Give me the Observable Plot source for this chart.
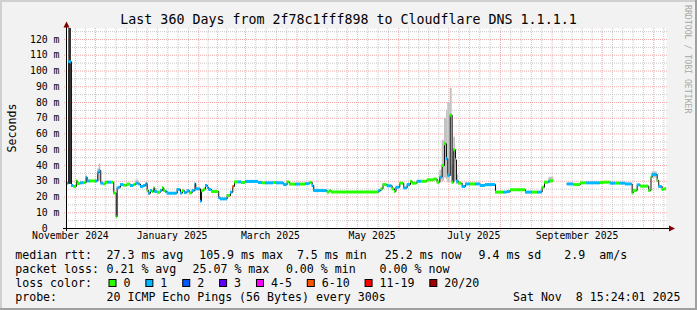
<!DOCTYPE html>
<html><head><meta charset="utf-8">
<script src="https://cdn.jsdelivr.net/npm/d3@7"></script>
<script src="https://cdn.jsdelivr.net/npm/@observablehq/plot@0.6"></script>
<style>body{margin:0;background:#f2f2f2} svg{display:block}</style>
</head><body><div id="chart"></div>
<script>
// ---- data ----
const times = [
"2024-11-13 15","2024-11-15 00","2024-11-16 15","2024-11-18 00","2024-11-19 15","2024-11-20 01","2024-11-22 01","2024-11-24 00","2024-11-25 11","2024-11-26 01","2024-11-28 01",
"2024-12-01 01","2024-12-02 10","2024-12-03 06","2024-12-04 05","2024-12-05 20","2024-12-07 01","2024-12-08 06","2024-12-10 15","2024-12-12 00","2024-12-13 11","2024-12-14 01","2024-12-15 00","2024-12-16 01","2024-12-18 00","2024-12-20 01","2024-12-22 01","2024-12-24 00","2024-12-25 08","2024-12-27 00","2024-12-28 01","2024-12-30 00","2024-12-31 08",
"2025-01-01 01","2025-01-02 00","2025-01-03 01","2025-01-04 06","2025-01-05 00","2025-01-05 15","2025-01-07 06","2025-01-09 01","2025-01-10 06","2025-01-11 00","2025-01-12 01","2025-01-13 01","2025-01-19 01","2025-01-21 01","2025-01-22 06","2025-01-23 11","2025-01-25 01","2025-01-26 11","2025-01-28 01","2025-01-29 18","2025-01-30 05",
"2025-02-02 01","2025-02-02 15","2025-02-04 00","2025-02-05 01","2025-02-06 06","2025-02-07 00","2025-02-08 15","2025-02-13 00","2025-02-14 01","2025-02-18 01","2025-02-20 01","2025-02-21 10","2025-02-22 11","2025-02-24 20","2025-02-26 15",
"2025-03-01 01","2025-03-08 20","2025-03-11 06","2025-03-13 01","2025-03-17 20","2025-03-19 15","2025-03-24 00","2025-03-26 01","2025-03-27 11","2025-03-31 01",
"2025-04-03 01","2025-04-06 01","2025-04-08 15","2025-04-10 01","2025-04-11 00","2025-04-19 01","2025-04-20 11","2025-04-21 15",
"2025-05-20 00","2025-05-21 08","2025-05-22 13","2025-05-25 01","2025-05-28 01","2025-05-29 11","2025-05-30 08",
"2025-06-01 15","2025-06-04 00","2025-06-06 01","2025-06-08 01","2025-06-09 01","2025-06-12 01","2025-06-14 15","2025-06-18 01","2025-06-22 00","2025-06-24 01","2025-06-25 15","2025-06-27 01","2025-06-28 11","2025-06-29 15","2025-06-30 10",
"2025-07-01 21","2025-07-03 01","2025-07-04 00","2025-07-05 01","2025-07-05 15","2025-07-07 00","2025-07-09 01","2025-07-11 01","2025-07-14 01","2025-07-17 01","2025-07-20 01","2025-07-23 01","2025-07-29 01",
"2025-08-03 00","2025-08-05 01","2025-08-07 01","2025-08-16 01","2025-08-20 06","2025-08-23 06","2025-08-26 01","2025-08-27 11","2025-08-30 00","2025-08-31 01",
"2025-09-02 00","2025-09-10 01","2025-09-14 00","2025-09-18 01","2025-09-21 15","2025-09-30 01",
"2025-10-02 00","2025-10-06 01","2025-10-09 01","2025-10-12 01","2025-10-15 01","2025-10-19 01","2025-10-19 16","2025-10-22 01","2025-10-24 01","2025-10-29 00","2025-10-30 08","2025-10-31 01",
"2025-11-03 01","2025-11-04 00","2025-11-06 01","2025-11-07 03"
];
// median rtt in ms (null = no data)
const medians = [
28.8,105.9,27.3,26.7,30.4,28.6,29.0,29.2,32.6,30.2,30.2,
30.2,35.5,36.8,28.8,28.3,29.4,29.4,29.4,22.5,7.5,25.8,26.2,27.9,27.5,28.2,27.3,27.9,28.8,28.2,26.7,27.3,28.6,
24.1,22.3,24.1,23.5,25.8,23.5,23.0,24.1,25.8,24.1,23.5,22.4,24.8,22.5,24.0,22.8,24.0,22.6,24.1,28.5,25.2,
17.3,24.0,25.0,27.3,26.0,24.8,23.5,19.5,18.8,20.9,23.0,26.7,29.6,29.6,29.2,
29.9,29.2,29.0,29.0,29.2,29.0,27.9,29.6,28.2,28.2,
28.2,28.5,29.3,27.3,24.1,23.2,24.0,23.1,
24.1,25.2,27.9,27.1,25.2,23.5,26.2,
28.8,25.8,27.9,30.0,28.8,30.0,30.0,30.9,31.4,29.4,32.6,40.0,53.8,44.3,33.7,
72.0,29.4,50.0,43.6,30.0,28.8,26.7,28.3,28.3,28.3,27.3,27.9,23.1,
23.1,23.5,24.6,23.1,23.1,23.1,26.2,29.4,30.0,30.3,
null,28.3,27.9,29.0,29.0,29.2,
29.4,28.8,28.8,28.8,28.3,22.6,24.1,27.7,26.9,24.1,32.6,34.3,
30.5,26.7,24.8,25.2
];
// lost pings (of 20)
const losses = [
1,1,1,0,0,0,1,0,1,1,0,
1,1,1,1,0,0,1,0,0,0,1,1,1,0,0,1,0,1,1,1,1,1,
0,1,1,0,0,1,0,1,0,0,1,1,1,1,0,1,1,0,1,1,1,
1,0,0,1,1,1,0,1,1,0,1,7,0,1,0,
1,1,0,1,0,1,1,0,0,1,
0,1,0,1,1,0,0,0,
1,0,0,1,0,0,1,
0,1,1,0,0,1,0,0,0,0,1,0,0,1,1,
0,0,0,0,1,0,1,1,0,1,1,1,0,
1,1,0,1,0,1,0,0,1,0,
null,1,0,0,1,0,
0,1,0,1,1,0,0,1,0,0,0,1,
0,1,0,0
];
// smoke (ping spread) where visible
const smokeFrom = ["2024-11-15 00","2024-11-25 11","2024-12-02 10","2024-12-03 06","2024-12-25 08","2025-06-25 15","2025-06-27 01","2025-06-28 11","2025-06-29 15","2025-06-30 10","2025-07-01 21","2025-07-03 01","2025-07-04 00","2025-07-05 01","2025-07-05 15","2025-08-30 00","2025-10-31 01"];
const smokeTo   = ["2024-11-16 15","2024-11-26 01","2024-12-03 06","2024-12-04 05","2024-12-27 00","2025-06-27 01","2025-06-28 11","2025-06-29 15","2025-06-30 10","2025-07-01 21","2025-07-03 01","2025-07-04 00","2025-07-05 01","2025-07-05 15","2025-07-07 00","2025-09-02 00","2025-11-03 01"];
const smokeLow  = [28,30,30,30,28,29,30,32,31,29,33,28,30,30,28,29,32];
const smokeHigh = [140,33.5,38,41,30.8,37,56,70,75,80,89,40,58,48,34,32.5,36];
const smokeTone = ["dark","light","light","light","light","light","light","light","light","light","light","light","light","light","light","light","light"];

const lossLabels = ["0","1","2","3","4-5","6-10","11-19","20/20"];
const lossUpper  = [0,1,2,3,5,10,19,20];
const lossColors = ["#26ff00","#00b8ff","#0059ff","#5e00ff","#ff00ff","#ff5500","#ff0000","#a10000"];

const yTicks = [0,10,20,30,40,50,60,70,80,90,100,110,120];
const yMinorTicks = [5,15,25,35,45,55,65,75,85,95,105,115,125];
const xLabelMonths = ["2024-11","2025-01","2025-03","2025-05","2025-07","2025-09"];

const titleText = "Last 360 Days from 2f78c1fff898 to Cloudflare DNS 1.1.1.1";
const rttNames = ["avg","max","min","now","sd"];
const rttValues = [27.3,105.9,7.5,25.2,9.4];
const amPerS = 2.9;
const lossNames = ["avg","max","min","now"];
const lossPct = [0.21,25.07,0.00,0.00];
const probeText = "20 ICMP Echo Pings (56 Bytes) every 300s";
const stampText = "Sat Nov  8 15:24:01 2025";

// ---- build ----
const parse = d3.utcParse("%Y-%m-%d %H");
const start = new Date(Date.UTC(2024,10,13,15,24,1));
const end = new Date(Date.UTC(2025,10,8,15,24,1));
const lossClass = n => lossLabels[lossUpper.findIndex(u => n <= u)];

const series = times.map((s,i) => ({
  t: i === 0 ? start : parse(s),
  t2: i < times.length - 1 ? parse(times[i+1]) : end,
  v: medians[i], loss: losses[i]
}));
const bands = series.filter(d => d.v != null);
const lineData = series.map(d => ({t: d.t, v: d.v == null ? NaN : d.v}))
  .concat([{t: end, v: medians[medians.length-1]}]);
const smoke = smokeFrom.map((s,i) => ({t1: parse(s), t2: parse(smokeTo[i]), lo: smokeLow[i], hi: smokeHigh[i], tone: smokeTone[i]}));

const xMajor = d3.utcMonth.range(d3.utcMonth.ceil(start), end);
const xMinor = d3.utcMonth.range(d3.utcMonth.floor(start), end).flatMap(m => {
  const n = d3.utcMonth.offset(m, 1);
  return [1,2,3,4].map(k => new Date(+m + k * (n - m) / 5));
}).filter(d => d > start && d < end);
const xLabels = xLabelMonths.map(d3.utcParse("%Y-%m"));

const gridMinor = "#c8c8c8", gridMajor = "#f0a8a8";

const plot = Plot.plot({
  width: 697, height: 310,
  marginLeft: 66, marginRight: 31, marginTop: 28, marginBottom: 82,
  style: {background: "#f2f2f2", fontFamily: "DejaVu Sans Mono", fontSize: "9.8px", color: "#000"},
  x: {type: "utc", domain: [start, end], axis: null},
  y: {domain: [0, 127], axis: null},
  color: {domain: lossLabels, range: lossColors},
  marks: [
    Plot.frame({fill: "#fff", stroke: "none"}),
    Plot.ruleY(yMinorTicks, {y: d => d, stroke: gridMinor, strokeDasharray: "1,1", insetRight: -2}),
    Plot.ruleX(xMinor, {x: d => d, stroke: gridMinor, strokeDasharray: "1,1"}),
    Plot.ruleY(yTicks.filter(d => d > 0), {y: d => d, stroke: gridMajor, strokeDasharray: "1,1", insetLeft: -2, insetRight: -2}),
    Plot.ruleX(xMajor, {x: d => d, stroke: gridMajor, strokeDasharray: "1,1", insetBottom: -3}),
    Plot.rect(smoke.filter(d => d.tone === "light"), {x1: "t1", x2: "t2", y1: "lo", y2: "hi", fill: "#c2c2c2", clip: true}),
    Plot.rect(smoke.filter(d => d.tone === "dark"), {x1: "t1", x2: "t2", y1: "lo", y2: "hi", fill: "#333333", clip: true}),
    Plot.line(lineData, {x: "t", y: "v", curve: "step-after", stroke: "#111", strokeWidth: 1, clip: true}),
    Plot.ruleY(bands, {x1: "t", x2: "t2", y: "v", stroke: d => lossClass(d.loss), strokeWidth: 3, clip: true}),
    Plot.ruleY([0], {stroke: "#000", insetLeft: -3, insetRight: -3}),
    Plot.ruleX([start], {stroke: "#000", insetTop: -1, insetBottom: -3}),
    Plot.text(yTicks, {y: d => d, text: d => d === 0 ? "0  " : `${d} m`, frameAnchor: "left", textAnchor: "end", dx: -7, fill: "#000"}),
    Plot.text(xLabels, {x: d => d3.utcDay.offset(d, 15), text: d => d3.utcFormat("%B %Y")(d), frameAnchor: "bottom", dy: 10.4, fill: "#000"})
  ]
});
document.getElementById("chart").appendChild(plot);

// ---- decorations, title and legend ----
const svg = d3.select(plot);
const mono = "DejaVu Sans Mono";
// frame shading
svg.append("rect").attr("x",0).attr("y",0).attr("width",697).attr("height",2).attr("fill","#d0d0d0");
svg.append("rect").attr("x",0).attr("y",0).attr("width",2).attr("height",310).attr("fill","#d0d0d0");
svg.append("rect").attr("x",0).attr("y",308).attr("width",697).attr("height",2).attr("fill","#a0a0a0");
svg.append("rect").attr("x",695).attr("y",0).attr("width",2).attr("height",310).attr("fill","#a0a0a0");
// arrows
svg.append("path").attr("d","M63.5,27.5L69.5,27.5L66.5,21.5Z").attr("fill","#800000");
svg.append("path").attr("d","M669,225.5L669,231.5L675,228.5Z").attr("fill","#800000");

function txt(x, y, s, size, anchor) {
  return svg.append("text").attr("x", x).attr("y", y).attr("xml:space","preserve")
    .style("white-space","pre").style("font-family", mono).style("font-size", size + "px")
    .attr("fill", "#000").attr("text-anchor", anchor || "start").text(s);
}
txt(348.5, 24, titleText, 13.3, "middle");
svg.append("text").attr("transform","translate(15.5,128) rotate(-90)").attr("text-anchor","middle")
  .style("font-family", mono).style("font-size","11.6px").attr("fill","#000").text("Seconds");
svg.append("text").attr("transform","translate(684.5,5) rotate(90)").attr("text-anchor","start")
  .style("font-family", mono).style("font-size","8.2px").attr("fill","#a8a8a8").text("RRDTOOL / TOBI OETIKER");

const LF = 11.6, cw = 6.97;
const rows = [258.5, 272.5, 286.5, 300.5];
// line 1
txt(15.2, rows[0], "median rtt:", LF);
const rttX = [106.5, 199.2, 296.9, 384.8, 478.5];
rttValues.forEach((v,i) => txt(rttX[i], rows[0], `${v.toFixed(1)} ms ${rttNames[i]}`, LF));
txt(564.2, rows[0], amPerS.toFixed(1), LF);
txt(599.2, rows[0], "am/s", LF);
// line 2
txt(15.2, rows[1], "packet loss:", LF);
const plX = [106.5, 192.5, 285.9, 379.6];
lossPct.forEach((v,i) => txt(plX[i], rows[1], `${v.toFixed(2)} % ${lossNames[i]}`, LF));
// line 3
txt(15.2, rows[2], "loss color:", LF);
let bx = 108.5;
lossLabels.forEach((lab,i) => {
  svg.append("rect").attr("x", bx + 0.5).attr("y", 279.5).attr("width", 7).attr("height", 7)
    .attr("fill", lossColors[i]).attr("stroke", "#000").attr("stroke-width", 1);
  const lx = bx + 15;
  txt(lx, rows[2], lab, LF);
  bx = lx + lab.length * cw + 14.9;
});
// line 4
txt(15.2, rows[3], "probe:", LF);
txt(106.5, rows[3], probeText, LF);
txt(680.5, rows[3], stampText, LF, "end");
</script>
</body></html>
